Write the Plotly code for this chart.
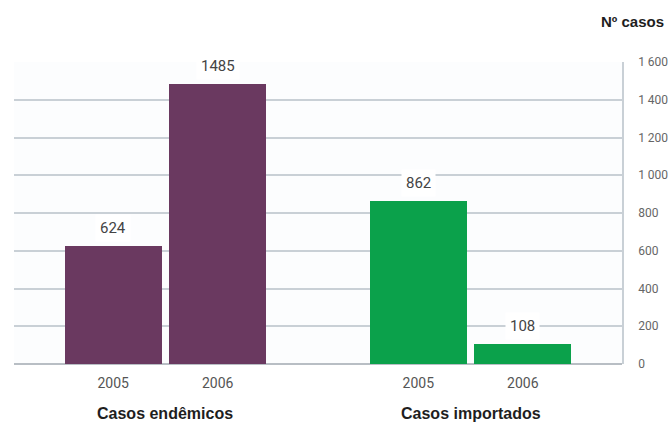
import plotly.graph_objects as go

groups = ["Casos endêmicos", "Casos importados"]
years = ["2005", "2006"]
values = {
    "Casos endêmicos": [624, 1485],
    "Casos importados": [862, 108],
}
colors = {"Casos endêmicos": "#6a3960", "Casos importados": "#0ba14b"}
y_ticks = [0, 200, 400, 600, 800, 1000, 1200, 1400, 1600]

GROUP_STEP = 2.92
BAR_W = 0.93
NARROW = "Roboto, Liberation Sans, sans-serif"
BOLD = "Liberation Sans, Arial, sans-serif"

fig = go.Figure()
tickvals, ticktext = [], []
annotations = []
for gi, g in enumerate(groups):
    xs = [gi * GROUP_STEP + yi for yi in range(len(years))]
    fig.add_trace(go.Bar(
        x=xs, y=values[g], width=BAR_W,
        marker=dict(color=colors[g], line=dict(width=0)),
        showlegend=False, hoverinfo="skip",
    ))
    tickvals += xs
    ticktext += years
    for x, v in zip(xs, values[g]):
        annotations.append(dict(
            x=x, y=v, xref="x", yref="y", text=str(v), showarrow=False,
            yshift=18, bgcolor="white", borderpad=4,
            font=dict(family=NARROW, size=15, color="#444444"),
        ))
    annotations.append(dict(
        x=(xs[0] + xs[-1]) / 2, y=0, xref="x", yref="y", text=f"<b>{g}</b>",
        showarrow=False, yshift=-49,
        font=dict(family=BOLD, size=16, color="#1e1e1e"),
    ))

annotations.append(dict(
    x=1, y=1, xref="paper", yref="paper", xanchor="right", yanchor="bottom",
    xshift=44, yshift=30, text="<b>Nº casos</b>", showarrow=False,
    font=dict(family=BOLD, size=15, color="#1e1e1e"),
))

fig.update_layout(
    width=670, height=426,
    margin=dict(l=14, r=48, t=62, b=62, autoexpand=False),
    paper_bgcolor="white", plot_bgcolor="#fcfdfe",
    separators=", ",
    bargap=0,
    annotations=annotations,
    xaxis=dict(
        range=[-0.95, GROUP_STEP + 1 + 0.95],
        tickvals=tickvals, ticktext=ticktext,
        showgrid=False, zeroline=False, showline=False,
        ticks="", ticklabelstandoff=9, automargin=False,
        tickfont=dict(family=NARROW, size=14, color="#555555"),
    ),
    yaxis=dict(
        side="right", range=[0, 1600], tickvals=y_ticks,
        tickformat=",d", automargin=False,
        showgrid=True, gridcolor="#c9d0d6", gridwidth=1.5,
        zeroline=True, zerolinecolor="#b8bec4", zerolinewidth=1.5,
        showline=True, linecolor="#c9d0d6", linewidth=1.5,
        ticks="", ticklabelstandoff=12,
        tickfont=dict(family=NARROW, size=12, color="#666666"),
    ),
)

fig.write_html("out.html", config={"displayModeBar": False},
               post_script="document.body.style.margin='0';")
